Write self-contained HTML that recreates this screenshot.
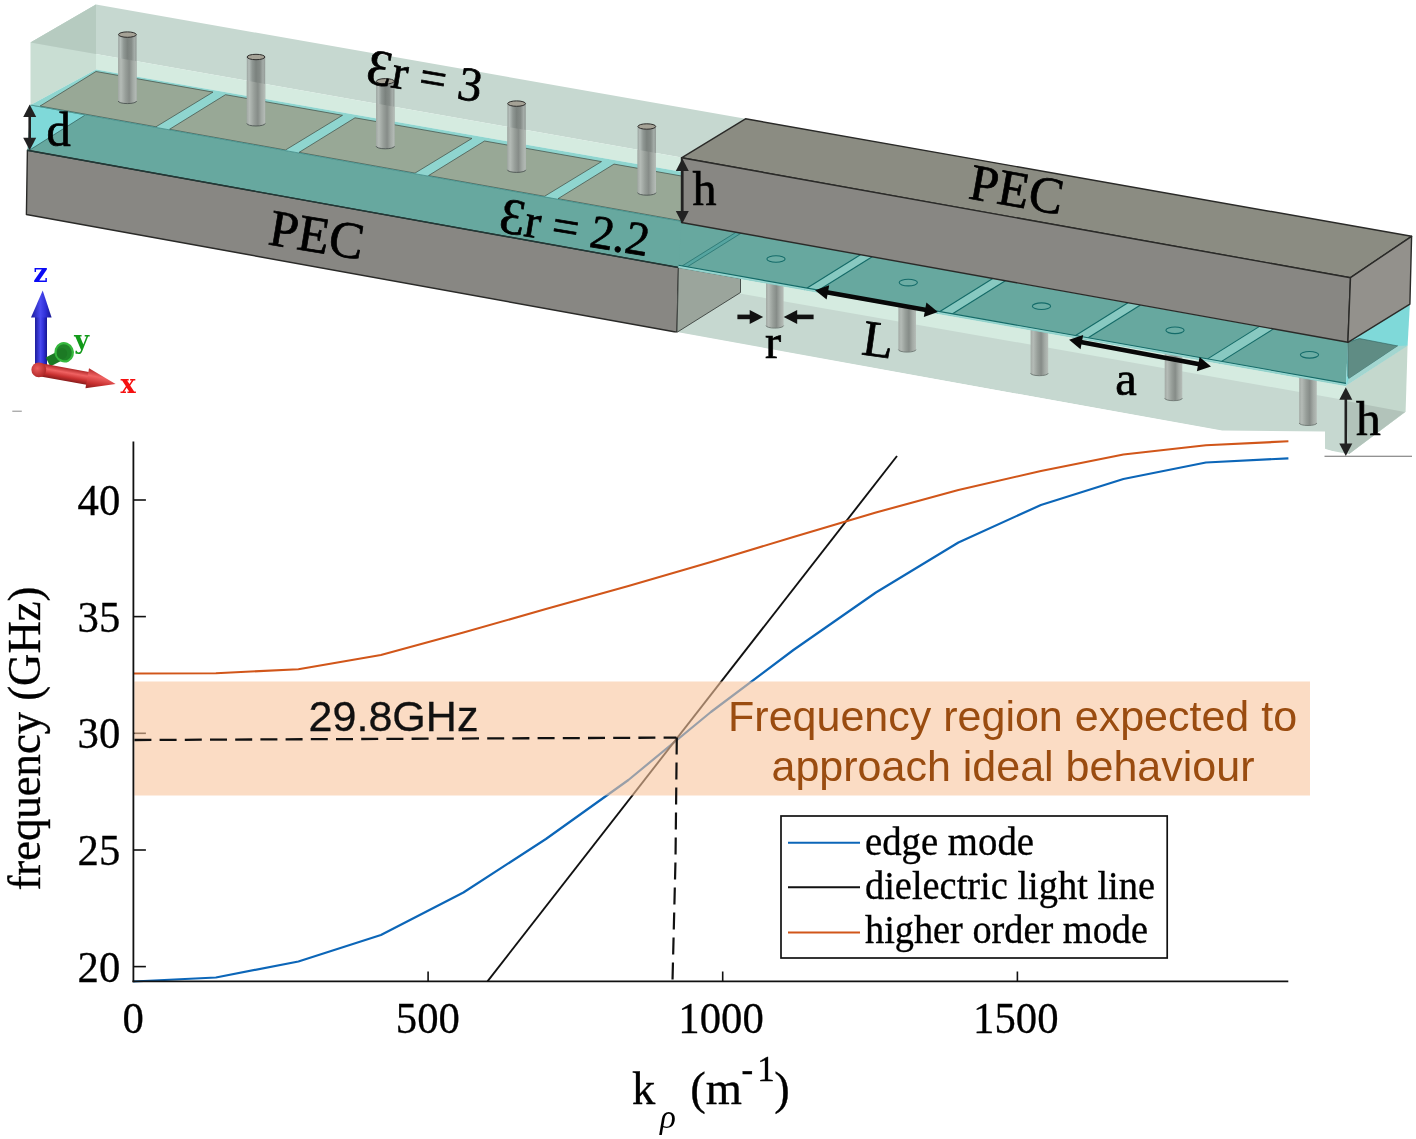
<!DOCTYPE html>
<html lang="en"><head><meta charset="utf-8"><title>Edge mode dispersion figure</title>
<style>
html,body{margin:0;padding:0;background:#fff;}
body{width:1416px;height:1139px;overflow:hidden;font-family:"Liberation Serif",serif;}
svg{display:block;}
text{white-space:pre;}
</style></head><body>
<svg width="1416" height="1139" viewBox="0 0 1416 1139">
<rect width="1416" height="1139" fill="#fff"/>
<g id="model">
<defs>
<linearGradient id="via" x1="0" x2="1" y1="0" y2="0"><stop offset="0" stop-color="#9aa39f"/><stop offset="0.12" stop-color="#b4bdb9"/><stop offset="0.3" stop-color="#8f9793"/><stop offset="0.5" stop-color="#7b827e"/><stop offset="0.72" stop-color="#858c88"/><stop offset="0.88" stop-color="#a4aca8"/><stop offset="1" stop-color="#939b97"/></linearGradient>
<linearGradient id="via2" x1="0" x2="1" y1="0" y2="0"><stop offset="0" stop-color="#a2a9a4"/><stop offset="0.15" stop-color="#b4bbb6"/><stop offset="0.4" stop-color="#979e99"/><stop offset="0.6" stop-color="#868c88"/><stop offset="0.8" stop-color="#a3aaa5"/><stop offset="1" stop-color="#b6bdb8"/></linearGradient>
<clipPath id="clipA"><polygon points="30.5,42.5 96.0,4.5 745.5,118.8 681.5,157.5"/></clipPath>
</defs>
<polygon points="30.5,42.5 96.0,4.5 96.0,69.5 30.5,105.0" fill="#c9ded3" />
<polygon points="30.5,42.5 96.0,4.5 745.5,118.8 681.5,157.5" fill="#c6d8d0" />
<polygon points="30.5,42.5 96.0,4.5 96.0,54.1" fill="#b6cbc0" />
<polygon points="96.0,54.1 681.5,157.5 681.5,171.8 96.0,69.5" fill="#d5ebe0" />
<polygon points="30.5,105.0 96.0,69.5 681.5,171.8 681.5,221.4" fill="#8fd5cf" />
<polygon points="40.0,106.1 96.0,71.5 213.0,92.1 156.0,126.8" fill="#98a896" stroke="#3d4a42" stroke-width="0.7" stroke-linejoin="round" />
<polygon points="169.5,129.3 225.5,94.7 342.5,115.3 285.5,150.0" fill="#98a896" stroke="#3d4a42" stroke-width="0.7" stroke-linejoin="round" />
<polygon points="299.0,152.4 355.0,117.8 472.0,138.4 415.0,173.1" fill="#98a896" stroke="#3d4a42" stroke-width="0.7" stroke-linejoin="round" />
<polygon points="428.5,175.6 484.5,141.0 601.5,161.6 544.5,196.3" fill="#98a896" stroke="#3d4a42" stroke-width="0.7" stroke-linejoin="round" />
<polygon points="558.0,198.7 614.0,164.1 681.5,176.0 681.5,220.8" fill="#98a896" stroke="#3d4a42" stroke-width="0.7" stroke-linejoin="round" />
<polygon points="30.5,105.0 682.7,221.6 679.7,267.7 27.4,150.3" fill="#67a89f" />
<polygon points="29.5,105.2 84.6,115.2 30.0,149.8" fill="#7fd9d9" />
<line x1="30.0" y1="149.8" x2="84.6" y2="115.4" stroke="#2f5f5c" stroke-width="0.7" />
<line x1="30.5" y1="105.0" x2="681.5" y2="221.4" stroke="#3f8a86" stroke-width="0.8" />
<polygon points="27.4,150.3 678.5,267.5 677.0,332.3 26.4,214.5" fill="#888783" stroke="#2a2a28" stroke-width="1.4" stroke-linejoin="round" />
<line x1="27.4" y1="150.3" x2="678.5" y2="267.5" stroke="#1f3a38" stroke-width="1.2" />
<rect x="118.2" y="34.6" width="18.4" height="66.4" fill="url(#via)"/>
<ellipse cx="127.4" cy="101.0" rx="9.2" ry="2.6" fill="url(#via)"/>
<path d="M118.2,58.0 L136.6,61.2 L136.6,101.0 A9.2,2.6 0 0 1 118.2,101.0 Z" fill="url(#via2)"/>
<path d="M118.2,101.0 A9.2,2.6 0 0 0 136.6,101.0" fill="none" stroke="#4d5652" stroke-width="0.9"/>
<ellipse cx="127.4" cy="34.6" rx="8.9" ry="2.7" fill="#a5a296" stroke="#2e2e2c" stroke-width="1"/>
<rect x="246.8" y="57.0" width="18.4" height="66.4" fill="url(#via)"/>
<ellipse cx="256.0" cy="123.4" rx="9.2" ry="2.6" fill="url(#via)"/>
<path d="M246.8,80.7 L265.2,83.9 L265.2,123.4 A9.2,2.6 0 0 1 246.8,123.4 Z" fill="url(#via2)"/>
<path d="M246.8,123.4 A9.2,2.6 0 0 0 265.2,123.4" fill="none" stroke="#4d5652" stroke-width="0.9"/>
<ellipse cx="256.0" cy="57.0" rx="8.9" ry="2.7" fill="#a5a296" stroke="#2e2e2c" stroke-width="1"/>
<rect x="376.1" y="81.3" width="18.4" height="64.9" fill="url(#via)"/>
<ellipse cx="385.3" cy="146.2" rx="9.2" ry="2.6" fill="url(#via)"/>
<path d="M376.1,103.6 L394.5,106.8 L394.5,146.2 A9.2,2.6 0 0 1 376.1,146.2 Z" fill="url(#via2)"/>
<path d="M376.1,146.2 A9.2,2.6 0 0 0 394.5,146.2" fill="none" stroke="#4d5652" stroke-width="0.9"/>
<ellipse cx="385.3" cy="81.3" rx="8.9" ry="2.7" fill="#a5a296" stroke="#2e2e2c" stroke-width="1"/>
<rect x="507.4" y="103.6" width="18.4" height="66.2" fill="url(#via)"/>
<ellipse cx="516.6" cy="169.8" rx="9.2" ry="2.6" fill="url(#via)"/>
<path d="M507.4,126.8 L525.8,130.0 L525.8,169.8 A9.2,2.6 0 0 1 507.4,169.8 Z" fill="url(#via2)"/>
<path d="M507.4,169.8 A9.2,2.6 0 0 0 525.8,169.8" fill="none" stroke="#4d5652" stroke-width="0.9"/>
<ellipse cx="516.6" cy="103.6" rx="8.9" ry="2.7" fill="#a5a296" stroke="#2e2e2c" stroke-width="1"/>
<rect x="637.6" y="126.5" width="18.4" height="66.1" fill="url(#via)"/>
<ellipse cx="646.8" cy="192.6" rx="9.2" ry="2.6" fill="url(#via)"/>
<path d="M637.6,149.8 L656.0,153.0 L656.0,192.6 A9.2,2.6 0 0 1 637.6,192.6 Z" fill="url(#via2)"/>
<path d="M637.6,192.6 A9.2,2.6 0 0 0 656.0,192.6" fill="none" stroke="#4d5652" stroke-width="0.9"/>
<ellipse cx="646.8" cy="126.5" rx="8.9" ry="2.7" fill="#a5a296" stroke="#2e2e2c" stroke-width="1"/>
<polygon points="678.5,267.5 1346.0,385.6 1405.6,411.8 1349.0,454.0 677.0,332.0" fill="#c6d8d0" />
<polygon points="1346.0,385.6 1407.6,345.3 1405.6,411.8 1349.0,454.0" fill="#c4d8cd" />
<polygon points="1346.0,401.0 1404.8,412.0 1349.0,454.0" fill="#b2c3ba" />
<polygon points="678.5,267.5 1346.0,385.6 1346.0,400.2 678.5,282.7" fill="#d5ebe0" />
<polygon points="678.5,267.5 740.5,278.5 740.5,292.5 677.0,332.3" fill="#9ba59c" stroke="#3a403c" stroke-width="0.9" stroke-linejoin="round" />
<rect x="766.0" y="282.5" width="17.6" height="43.1" fill="url(#via2)"/>
<ellipse cx="774.8" cy="325.6" rx="8.8" ry="2.5" fill="url(#via2)"/>
<path d="M766.0,325.6 A8.8,2.5 0 0 0 783.6,325.6" fill="none" stroke="#6d7672" stroke-width="0.9"/>
<rect x="898.4" y="306.0" width="17.6" height="43.6" fill="url(#via2)"/>
<ellipse cx="907.2" cy="349.6" rx="8.8" ry="2.5" fill="url(#via2)"/>
<path d="M898.4,349.6 A8.8,2.5 0 0 0 916.0,349.6" fill="none" stroke="#6d7672" stroke-width="0.9"/>
<rect x="1030.6" y="329.4" width="17.6" height="43.8" fill="url(#via2)"/>
<ellipse cx="1039.4" cy="373.2" rx="8.8" ry="2.5" fill="url(#via2)"/>
<path d="M1030.6,373.2 A8.8,2.5 0 0 0 1048.2,373.2" fill="none" stroke="#6d7672" stroke-width="0.9"/>
<rect x="1164.7" y="353.1" width="17.6" height="45.1" fill="url(#via2)"/>
<ellipse cx="1173.5" cy="398.2" rx="8.8" ry="2.5" fill="url(#via2)"/>
<path d="M1164.7,398.2 A8.8,2.5 0 0 0 1182.3,398.2" fill="none" stroke="#6d7672" stroke-width="0.9"/>
<rect x="1299.2" y="376.9" width="17.6" height="46.1" fill="url(#via2)"/>
<ellipse cx="1308.0" cy="423.0" rx="8.8" ry="2.5" fill="url(#via2)"/>
<path d="M1299.2,423.0 A8.8,2.5 0 0 0 1316.8,423.0" fill="none" stroke="#6d7672" stroke-width="0.9"/>
<polygon points="681.5,222.5 1347.9,342.3 1346.0,385.6 678.5,267.5" fill="#67a89f" />
<polygon points="804.3,289.8 860.4,254.7 872.2,256.8 816.1,291.8" fill="#88c9c1" />
<line x1="804.3" y1="289.8" x2="860.4" y2="254.7" stroke="#146a67" stroke-width="1.1" />
<line x1="816.1" y1="291.8" x2="872.2" y2="256.8" stroke="#146a67" stroke-width="1.1" />
<polygon points="937.1,313.3 992.8,278.5 1005.4,280.7 949.8,315.5" fill="#88c9c1" />
<line x1="937.1" y1="313.3" x2="992.8" y2="278.5" stroke="#146a67" stroke-width="1.1" />
<line x1="949.8" y1="315.5" x2="1005.4" y2="280.7" stroke="#146a67" stroke-width="1.1" />
<polygon points="1072.8,337.3 1128.0,302.8 1140.5,305.0 1085.4,339.5" fill="#88c9c1" />
<line x1="1072.8" y1="337.3" x2="1128.0" y2="302.8" stroke="#146a67" stroke-width="1.1" />
<line x1="1085.4" y1="339.5" x2="1140.5" y2="305.0" stroke="#146a67" stroke-width="1.1" />
<polygon points="1204.8,360.6 1259.5,326.4 1273.5,328.9 1218.8,363.1" fill="#88c9c1" />
<line x1="1204.8" y1="360.6" x2="1259.5" y2="326.4" stroke="#146a67" stroke-width="1.1" />
<line x1="1218.8" y1="363.1" x2="1273.5" y2="328.9" stroke="#146a67" stroke-width="1.1" />
<polygon points="679.8,267.4 736.0,232.3 741.1,233.2 687.7,266.6" fill="#56a5a0" stroke="#1f6b68" stroke-width="0.7" stroke-linejoin="round" />
<polygon points="678.5,267.5 1346.0,385.6 1346.0,383.4 678.5,265.3" fill="#9ad6d0" />
<line x1="678.5" y1="265.3" x2="1346.0" y2="383.4" stroke="#146a67" stroke-width="1.1" />
<line x1="678.5" y1="267.5" x2="1346.0" y2="385.6" stroke="#8fd3cd" stroke-width="0.8" />
<ellipse cx="776.0" cy="259.0" rx="9.1" ry="3.3" fill="#6cada4" stroke="#146b69" stroke-width="1.1"/>
<ellipse cx="908.3" cy="282.6" rx="9.1" ry="3.3" fill="#6cada4" stroke="#146b69" stroke-width="1.1"/>
<ellipse cx="1041.5" cy="306.2" rx="9.1" ry="3.3" fill="#6cada4" stroke="#146b69" stroke-width="1.1"/>
<ellipse cx="1175.0" cy="330.3" rx="9.1" ry="3.3" fill="#6cada4" stroke="#146b69" stroke-width="1.1"/>
<ellipse cx="1309.5" cy="354.8" rx="9.1" ry="3.3" fill="#6cada4" stroke="#146b69" stroke-width="1.1"/>
<polygon points="1347.9,342.3 1409.9,304.2 1407.6,345.3 1346.0,385.6" fill="#7fd9d9" />
<polygon points="1347.9,342.4 1359.3,338.5 1398.0,346.0 1349.0,378.8 1347.9,376.0" fill="#5f8c84" stroke="#2f5f5c" stroke-width="0.6" stroke-linejoin="round" />
<polygon points="1398.0,346.0 1408.0,345.6 1346.0,385.6 1349.0,378.8" fill="#a3d6d0" />
<polygon points="681.5,157.8 745.5,118.8 1411.6,236.3 1350.5,277.7" fill="#8b8c82" stroke="#2a2a28" stroke-width="1.4" stroke-linejoin="round" />
<polygon points="681.5,157.8 1350.5,277.7 1347.9,342.3 681.5,222.5" fill="#888783" stroke="#2a2a28" stroke-width="1.4" stroke-linejoin="round" />
<polygon points="1350.5,277.7 1411.6,236.3 1409.9,304.2 1347.9,342.3" fill="#93918c" stroke="#2a2a28" stroke-width="1.4" stroke-linejoin="round" />
</g>
<g id="whitecut">
<polygon points="600,345 677,332.6 1222,430.6 1325,431.6 1325,448.8 1346,455.6 1346,470 600,470" fill="#fff"/>
</g>
<g id="anno">
<text x="364.5" y="82.8" font-size="48" font-family="Liberation Serif, serif" fill="#000" transform="rotate(9.6 364.5 82.8)"  stroke="#000" stroke-width="0.7"><tspan font-size="51">Ɛ</tspan>r = 3</text>
<text x="497.5" y="231.5" font-size="47.5" font-family="Liberation Serif, serif" fill="#000" transform="rotate(9.4 497.5 231.5)"  stroke="#000" stroke-width="0.7"><tspan font-size="51">Ɛ</tspan>r = 2.2</text>
<text x="267.0" y="244.2" font-size="52" font-family="Liberation Serif, serif" fill="#000" transform="rotate(9.4 267.0 244.2)"  stroke="#000" stroke-width="0.7">PEC</text>
<text x="967.3" y="198.3" font-size="51.5" font-family="Liberation Serif, serif" fill="#000" transform="rotate(10 967.3 198.3)"  stroke="#000" stroke-width="0.7">PEC</text>
<text x="46.5" y="146.0" font-size="48.5" font-family="Liberation Serif, serif" fill="#000"  stroke="#000" stroke-width="0.7">d</text>
<line x1="29.7" y1="115.8" x2="29.7" y2="139.1" stroke="#222" stroke-width="2.6"/>
<polygon points="29.7,104.6 23.2,117.1 36.2,117.1" fill="#222"/>
<polygon points="29.7,150.3 23.2,137.8 36.2,137.8" fill="#222"/>
<text x="692.5" y="204.6" font-size="48" font-family="Liberation Serif, serif" fill="#000"  stroke="#000" stroke-width="0.7">h</text>
<line x1="682.3" y1="169.8" x2="682.3" y2="212.3" stroke="#222" stroke-width="2.6"/>
<polygon points="682.3,158.6 675.8,171.1 688.8,171.1" fill="#222"/>
<polygon points="682.3,223.6 675.8,211.1 688.8,211.1" fill="#222"/>
<text x="1356.0" y="435.4" font-size="49.5" font-family="Liberation Serif, serif" fill="#000"  stroke="#000" stroke-width="0.7">h</text>
<line x1="1345.8" y1="398.4" x2="1345.8" y2="444.6" stroke="#222" stroke-width="2.6"/>
<polygon points="1345.8,387.2 1339.3,399.7 1352.3,399.7" fill="#222"/>
<polygon points="1345.8,455.9 1339.3,443.4 1352.3,443.4" fill="#222"/>
<line x1="1324.5" y1="456.3" x2="1412" y2="456.3" stroke="#6e6e6e" stroke-width="1.1"/>
<text x="765.0" y="358.4" font-size="48.5" font-family="Liberation Serif, serif" fill="#000"  stroke="#000" stroke-width="0.7">r</text>
<line x1="737.4" y1="316.9" x2="751.1" y2="316.9" stroke="#111" stroke-width="4.6"/>
<polygon points="763.2,316.9 749.7,323.9 749.7,309.9" fill="#111"/>
<line x1="813.6" y1="316.9" x2="795.9" y2="316.9" stroke="#111" stroke-width="4.6"/>
<polygon points="783.7,316.9 797.2,309.9 797.2,323.9" fill="#111"/>
<text x="860.5" y="354.2" font-size="51" font-family="Liberation Serif, serif" fill="#000" transform="rotate(8 860.5 354.2)"  stroke="#000" stroke-width="0.7">L</text>
<line x1="826.6" y1="292.2" x2="926.4" y2="310.0" stroke="#080808" stroke-width="4.6"/>
<polygon points="815.1,290.2 826.6,299.6 829.2,285.3" fill="#080808"/>
<polygon points="937.9,312.0 923.8,316.9 926.4,302.6" fill="#080808"/>
<text x="1115.2" y="395.4" font-size="48.5" font-family="Liberation Serif, serif" fill="#000"  stroke="#000" stroke-width="0.7">a</text>
<line x1="1080.6" y1="341.9" x2="1199.5" y2="364.3" stroke="#080808" stroke-width="4.6"/>
<polygon points="1069.1,339.7 1080.5,349.2 1083.2,335.0" fill="#080808"/>
<polygon points="1211.0,366.5 1196.9,371.2 1199.6,357.0" fill="#080808"/>
<defs><linearGradient id="gz" x1="0" x2="1" y1="0" y2="0"><stop offset="0" stop-color="#1c1c9c"/><stop offset="0.45" stop-color="#4a4af0"/><stop offset="0.7" stop-color="#3030d8"/><stop offset="1" stop-color="#161690"/></linearGradient><linearGradient id="gx" x1="0" x2="0" y1="0" y2="1"><stop offset="0" stop-color="#b02828"/><stop offset="0.35" stop-color="#f06262"/><stop offset="0.7" stop-color="#c83030"/><stop offset="1" stop-color="#8a1c1c"/></linearGradient><radialGradient id="gs" cx="0.4" cy="0.4" r="0.7"><stop offset="0" stop-color="#ec5c5c"/><stop offset="1" stop-color="#a82222"/></radialGradient></defs>
<g>
<rect x="35" y="316" width="12" height="50" fill="url(#gz)"/>
<polygon points="42.7,290.5 51.6,317.6 31,317.6" fill="url(#gz)"/>
<line x1="48" y1="362" x2="66" y2="352.8" stroke="#1c7a24" stroke-width="10" stroke-linecap="butt"/>
<ellipse cx="64.2" cy="352.3" rx="8.6" ry="9.2" fill="#1f8428" stroke="#36b83e" stroke-width="2.2" transform="rotate(-25 64.2 352.3)"/>
<ellipse cx="62" cy="353.5" rx="5.2" ry="5.6" fill="#1c7a24"/>
<g transform="rotate(10.2 38.8 369.5)">
<rect x="38.8" y="363" width="51" height="13" fill="url(#gx)"/>
<polygon points="88,359.3 117,370.2 88,379.6" fill="url(#gx)"/>
</g>
<circle cx="38.8" cy="369.8" r="7.4" fill="url(#gs)"/>
</g>
<text x="33.2" y="281.8" font-size="25.5" font-family="DejaVu Serif, Liberation Serif, serif" fill="#0a0af5" font-weight="bold">z</text>
<text x="74.2" y="349.2" font-size="25.5" font-family="DejaVu Serif, Liberation Serif, serif" fill="#129a1a" font-weight="bold">y</text>
<text x="120.6" y="393.3" font-size="25.5" font-family="DejaVu Serif, Liberation Serif, serif" fill="#f51010" font-weight="bold">x</text>
<line x1="12.3" y1="411.2" x2="21.8" y2="411.2" stroke="#8a8a8a" stroke-width="1"/>
<polyline points="133.4,981.5 215.9,977.5 298.4,961.5 380.9,935.0 463.4,892.5 545.9,839.0 628.4,780.0 710.9,712.0 793.4,650.0 875.9,592.5 958.4,542.5 1040.9,505.0 1123.4,479.0 1205.9,462.5 1288.4,458.3" fill="none" stroke="#0c66b8" stroke-width="2.2" stroke-linejoin="round"/>
<line x1="487.5" y1="981.3" x2="897" y2="456" stroke="#111" stroke-width="1.9"/>
<polyline points="133.4,673.5 215.9,673.3 298.4,669.2 380.9,655.0 463.4,632.5 545.9,609.0 628.4,586.0 710.9,562.0 793.4,537.0 875.9,512.5 958.4,490.0 1040.9,471.0 1123.4,454.5 1205.9,445.2 1288.4,441.3" fill="none" stroke="#d1561a" stroke-width="2.1" stroke-linejoin="round"/>
<line x1="133.4" y1="733.3" x2="145.9" y2="733.3" stroke="#111" stroke-width="1.6"/>
<rect x="134.3" y="681.5" width="1175.7" height="114" fill="#f8c59d" fill-opacity="0.6"/>
<path d="M134.4,740 L676.5,737.6" stroke="#111" stroke-width="2.3" stroke-dasharray="17 8.2" fill="none"/>
<path d="M676.8,737.6 L675.5,860 L672.5,981" stroke="#111" stroke-width="2.2" stroke-dasharray="17 8" fill="none"/>
<line x1="133.4" y1="441.5" x2="133.4" y2="982.2" stroke="#111" stroke-width="1.8"/>
<line x1="132.5" y1="981.3" x2="1288.3" y2="981.3" stroke="#111" stroke-width="1.8"/>
<line x1="133.4" y1="966.6" x2="145.9" y2="966.6" stroke="#111" stroke-width="1.6"/>
<text x="0" y="0" font-size="45" font-family="Liberation Serif, serif" stroke="#000" stroke-width="0.3" text-anchor="end" transform="translate(120.3 981.5) scale(0.95 1)">20</text>
<line x1="133.4" y1="850.0" x2="145.9" y2="850.0" stroke="#111" stroke-width="1.6"/>
<text x="0" y="0" font-size="45" font-family="Liberation Serif, serif" stroke="#000" stroke-width="0.3" text-anchor="end" transform="translate(120.3 864.9) scale(0.95 1)">25</text>
<text x="0" y="0" font-size="45" font-family="Liberation Serif, serif" stroke="#000" stroke-width="0.3" text-anchor="end" transform="translate(120.3 748.2) scale(0.95 1)">30</text>
<line x1="133.4" y1="616.6" x2="145.9" y2="616.6" stroke="#111" stroke-width="1.6"/>
<text x="0" y="0" font-size="45" font-family="Liberation Serif, serif" stroke="#000" stroke-width="0.3" text-anchor="end" transform="translate(120.3 631.5) scale(0.95 1)">35</text>
<line x1="133.4" y1="500.0" x2="145.9" y2="500.0" stroke="#111" stroke-width="1.6"/>
<text x="0" y="0" font-size="45" font-family="Liberation Serif, serif" stroke="#000" stroke-width="0.3" text-anchor="end" transform="translate(120.3 514.9) scale(0.95 1)">40</text>
<text x="0" y="0" font-size="45" font-family="Liberation Serif, serif" stroke="#000" stroke-width="0.3" text-anchor="middle" transform="translate(133.2 1032.9) scale(0.95 1)">0</text>
<line x1="428.1" y1="981.3" x2="428.1" y2="971.5" stroke="#111" stroke-width="1.6"/>
<text x="0" y="0" font-size="45" font-family="Liberation Serif, serif" stroke="#000" stroke-width="0.3" text-anchor="middle" transform="translate(427.9 1032.9) scale(0.95 1)">500</text>
<line x1="722.7" y1="981.3" x2="722.7" y2="971.5" stroke="#111" stroke-width="1.6"/>
<text x="0" y="0" font-size="45" font-family="Liberation Serif, serif" stroke="#000" stroke-width="0.3" text-anchor="middle" transform="translate(721.1 1032.9) scale(0.95 1)">1000</text>
<line x1="1017.4" y1="981.3" x2="1017.4" y2="971.5" stroke="#111" stroke-width="1.6"/>
<text x="0" y="0" font-size="45" font-family="Liberation Serif, serif" stroke="#000" stroke-width="0.3" text-anchor="middle" transform="translate(1015.8 1032.9) scale(0.95 1)">1500</text>
<text x="0" y="0" font-size="47" font-family="Liberation Serif, serif" stroke="#000" stroke-width="0.35" text-anchor="middle" textLength="304" lengthAdjust="spacingAndGlyphs" transform="translate(40.3 738.6) rotate(-90)">frequency (GHz)</text>
<text x="632.0" y="1104.2" font-size="46.5" font-family="Liberation Serif, serif" fill="#000"  stroke="#000" stroke-width="0.35">k</text>
<text x="660.0" y="1128.0" font-size="33" font-family="Liberation Serif, serif" fill="#000" font-style="italic">ρ</text>
<text x="690.3" y="1104.2" font-size="46.5" font-family="Liberation Serif, serif" fill="#000"  stroke="#000" stroke-width="0.35">(m</text>
<text x="741.5" y="1081.0" font-size="35" font-family="Liberation Serif, serif" fill="#000"  stroke="#000" stroke-width="0.35">-</text>
<text x="757.2" y="1081.0" font-size="35" font-family="Liberation Serif, serif" fill="#000"  stroke="#000" stroke-width="0.35">1</text>
<text x="774.2" y="1104.2" font-size="46.5" font-family="Liberation Serif, serif" fill="#000"  stroke="#000" stroke-width="0.35">)</text>
<text x="308.5" y="730.8" font-size="42.7" font-family="Liberation Sans, sans-serif" fill="#111" textLength="170" lengthAdjust="spacingAndGlyphs" stroke="#111" stroke-width="0.3">29.8GHz</text>
<text x="1012.6" y="730.8" font-size="42.7" font-family="Liberation Sans, sans-serif" fill="#9a4c10" text-anchor="middle" textLength="569" lengthAdjust="spacingAndGlyphs">Frequency region expected to</text>
<text x="1013" y="781.3" font-size="42.7" font-family="Liberation Sans, sans-serif" fill="#9a4c10" text-anchor="middle" textLength="483" lengthAdjust="spacingAndGlyphs">approach ideal behaviour</text>
<rect x="781" y="816" width="386.2" height="142" fill="#fff" stroke="#111" stroke-width="1.7"/>
<line x1="788" y1="842.8" x2="860" y2="842.8" stroke="#0c66b8" stroke-width="2"/>
<line x1="788" y1="887.2" x2="860" y2="887.2" stroke="#111" stroke-width="2"/>
<line x1="788" y1="932.6" x2="860" y2="932.6" stroke="#d1561a" stroke-width="2"/>
<text x="865" y="854.8" font-size="40" font-family="Liberation Serif, serif" stroke="#000" stroke-width="0.35" textLength="169" lengthAdjust="spacingAndGlyphs">edge mode</text>
<text x="865" y="898.6" font-size="40" font-family="Liberation Serif, serif" stroke="#000" stroke-width="0.35" textLength="290" lengthAdjust="spacingAndGlyphs">dielectric light line</text>
<text x="865" y="943.4" font-size="40" font-family="Liberation Serif, serif" stroke="#000" stroke-width="0.35" textLength="283" lengthAdjust="spacingAndGlyphs">higher order mode</text>
</g>
</svg>
</body></html>
